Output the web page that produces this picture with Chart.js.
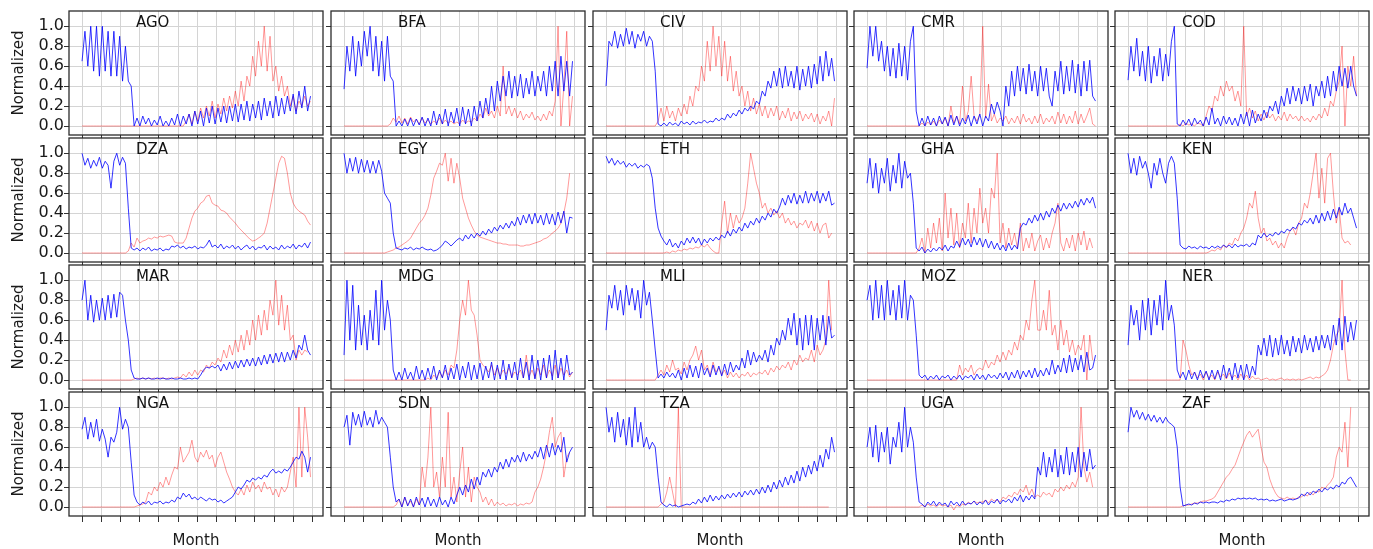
<!DOCTYPE html>
<html>
<head>
<meta charset="utf-8">
<script src="https://cdn.jsdelivr.net/npm/chart.js@4.4.0/dist/chart.umd.min.js"></script>
<style>
  body { margin: 0; background: #fff; }
  #wrap { position: relative; width: 1373px; height: 549px; overflow: hidden; }
  #wrap canvas { position: absolute; }
</style>
</head>
<body>
<div id="wrap"></div>
<script>
// 20 countries, 5 per row; each series is sampled about every 0.15 month (month 0 .. 11.9)
const countries = ['AGO', 'BFA', 'CIV', 'CMR', 'COD',
                   'DZA', 'EGY', 'ETH', 'GHA', 'KEN',
                   'MAR', 'MDG', 'MLI', 'MOZ', 'NER',
                   'NGA', 'SDN', 'TZA', 'UGA', 'ZAF'];
const monthTicks = [0, 1, 2, 3, 4, 5, 6, 7, 8, 9, 10, 11, 12];
const yTicks = [0, 0.2, 0.4, 0.6, 0.8, 1.0];
const STEP = 11.9 / 79;

const agoBlue = [0.65,0.95,0.6,1.0,0.55,1.0,0.5,1.0,0.55,0.95,
  0.5,0.95,0.5,0.9,0.45,0.8,0.45,0.4,0.0,0.08,
  0.0,0.1,0.02,0.08,0.0,0.06,0.01,0.1,0.0,0.05,
  0.0,0.08,0.01,0.12,0.0,0.1,0.02,0.12,0.0,0.15,
  0.02,0.15,0.0,0.18,0.03,0.2,0.02,0.18,0.04,0.2,
  0.03,0.2,0.05,0.22,0.04,0.22,0.06,0.25,0.05,0.22,
  0.08,0.25,0.06,0.28,0.1,0.25,0.08,0.3,0.1,0.28,
  0.12,0.3,0.15,0.32,0.12,0.35,0.18,0.4,0.15,0.3];
const agoRed = [0,0,0,0,0,0,0,0,0,0,
  0,0,0,0,0,0,0,0,0,0,
  0,0,0,0,0,0,0,0,0,0,
  0,0,0,0,0,0,0.05,0.12,0.02,0.15,
  0.05,0.18,0.08,0.2,0.1,0.25,0.08,0.22,0.12,0.28,
  0.15,0.3,0.18,0.35,0.2,0.45,0.25,0.5,0.4,0.7,
  0.5,0.85,0.6,1.0,0.55,0.9,0.45,0.6,0.35,0.5,
  0.3,0.4,0.2,0.3,0.15,0.25,0.2,0.3,0.2,0.25];

const bfaBlue = [0.37,0.8,0.55,0.9,0.5,0.85,0.6,0.95,0.7,1.0,
  0.55,0.9,0.5,0.85,0.45,0.9,0.5,0.45,0.0,0.05,
  0.0,0.07,0.0,0.08,0.0,0.07,0.01,0.09,0.0,0.08,
  0.0,0.15,0.01,0.12,0.02,0.17,0.0,0.14,0.03,0.18,
  0.0,0.19,0.02,0.17,0.0,0.2,0.05,0.25,0.08,0.28,
  0.12,0.4,0.15,0.45,0.25,0.5,0.3,0.55,0.28,0.5,
  0.3,0.52,0.28,0.48,0.32,0.55,0.3,0.5,0.35,0.55,
  0.3,0.6,0.35,0.65,0.3,0.7,0.35,0.65,0.3,0.65];
const bfaRed = [0,0,0,0,0,0,0,0,0,0,
  0,0,0,0,0,0,0.02,0.08,0.04,0.1,
  0.03,0.08,0.02,0.09,0.04,0.07,0.02,0.08,0.03,0.06,
  0.02,0.05,0.03,0.08,0.02,0.06,0.03,0.05,0.02,0.04,
  0.02,0.06,0.03,0.05,0.04,0.08,0.05,0.12,0.08,0.18,
  0.1,0.15,0.08,0.2,0.1,0.6,0.12,0.2,0.1,0.18,
  0.08,0.15,0.06,0.12,0.08,0.14,0.06,0.1,0.05,0.12,
  0.06,0.15,0.1,0.25,1.0,0.0,0.4,0.95,0.0,0.3];

const civBlue = [0.4,0.85,0.8,0.95,0.78,0.92,0.8,0.98,0.82,0.95,
  0.78,0.92,0.85,0.95,0.8,0.9,0.85,0.55,0.02,0.0,
  0.03,0.0,0.04,0.01,0.03,0.0,0.05,0.02,0.04,0.01,
  0.05,0.02,0.04,0.03,0.06,0.03,0.05,0.04,0.08,0.05,
  0.08,0.06,0.12,0.08,0.13,0.1,0.16,0.12,0.18,0.15,
  0.2,0.17,0.25,0.22,0.35,0.3,0.45,0.38,0.55,0.4,
  0.58,0.38,0.6,0.4,0.55,0.38,0.6,0.36,0.57,0.4,
  0.6,0.38,0.62,0.42,0.7,0.45,0.75,0.5,0.68,0.45];
const civRed = [0,0,0,0,0,0,0,0,0,0,
  0,0,0,0,0,0,0,0,0.05,0.18,
  0.05,0.2,0.08,0.15,0.05,0.18,0.1,0.22,0.12,0.3,
  0.2,0.4,0.35,0.6,0.45,0.85,0.55,1.0,0.6,0.9,
  0.5,0.85,0.45,0.7,0.35,0.55,0.3,0.4,0.2,0.35,
  0.15,0.28,0.12,0.22,0.1,0.2,0.08,0.18,0.1,0.2,
  0.06,0.15,0.08,0.18,0.05,0.14,0.07,0.15,0.05,0.12,
  0.07,0.13,0.04,0.12,0.02,0.1,0.05,0.15,0.0,0.28];

const cmrBlue = [0.58,1.0,0.7,1.0,0.65,0.85,0.55,0.8,0.5,0.78,
  0.48,0.83,0.5,0.8,0.46,0.85,1.0,0.15,0.0,0.08,
  0.0,0.1,0.01,0.08,0.0,0.1,0.02,0.09,0.0,0.11,
  0.01,0.1,0.0,0.08,0.02,0.11,0.0,0.1,0.02,0.12,
  0.0,0.1,0.05,0.22,0.12,0.24,0.15,0.0,0.4,0.2,
  0.55,0.3,0.6,0.35,0.58,0.32,0.62,0.35,0.55,0.3,
  0.6,0.35,0.58,0.3,0.2,0.55,0.35,0.65,0.32,0.6,
  0.35,0.66,0.33,0.62,0.3,0.65,0.35,0.66,0.3,0.25];
const cmrRed = [0,0,0,0,0,0,0,0,0,0,
  0,0,0,0,0,0,0,0,0,0.03,
  0.0,0.04,0.01,0.05,0.0,0.06,0.02,0.08,0.0,0.2,
  0.03,0.1,0.02,0.4,0.05,0.15,0.5,0.1,0.05,0.12,
  1.0,0.08,0.42,0.05,0.12,0.03,0.08,0.05,0.1,0.02,
  0.08,0.03,0.1,0.02,0.12,0.04,0.08,0.02,0.1,0.03,
  0.12,0.02,0.08,0.04,0.1,0.02,0.14,0.03,0.12,0.02,
  0.1,0.03,0.15,0.02,0.12,0.03,0.1,0.18,0.02,0.0];

const codBlue = [0.46,0.8,0.55,0.88,0.5,0.75,0.45,0.8,0.43,0.7,
  0.5,0.78,0.45,0.72,0.5,0.85,1.0,0.02,0.0,0.06,
  0.01,0.07,0.0,0.08,0.02,0.06,0.0,0.09,0.01,0.18,
  0.02,0.08,0.0,0.1,0.02,0.09,0.01,0.08,0.0,0.12,
  0.02,0.14,0.0,0.16,0.03,0.12,0.05,0.16,0.08,0.2,
  0.15,0.25,0.12,0.3,0.2,0.38,0.22,0.4,0.25,0.38,
  0.22,0.4,0.25,0.42,0.2,0.4,0.3,0.45,0.28,0.5,
  0.3,0.55,0.35,0.6,0.4,0.58,0.38,0.6,0.4,0.3];
const codRed = [0,0,0,0,0,0,0,0,0,0,
  0,0,0,0,0,0,0,0.0,0.02,0.0,
  0.03,0.01,0.02,0.0,0.03,0.02,0.0,0.1,0.2,0.15,
  0.3,0.25,0.4,0.3,0.45,0.35,0.4,0.25,0.35,0.2,
  1.0,0.1,0.18,0.08,0.15,0.05,0.12,0.06,0.14,0.08,
  0.12,0.05,0.1,0.06,0.14,0.05,0.12,0.07,0.1,0.05,
  0.1,0.05,0.08,0.04,0.1,0.06,0.12,0.08,0.18,0.1,
  0.25,0.2,0.35,0.45,0.8,0.0,0.6,0.4,0.7,0.3];

const dzaBlue = [1.0,0.88,0.95,0.85,0.93,0.87,0.96,0.85,0.92,0.88,
  0.65,0.92,1.0,0.88,0.96,0.9,0.45,0.05,0.03,0.05,
  0.02,0.05,0.03,0.06,0.02,0.04,0.03,0.05,0.02,0.04,
  0.03,0.07,0.06,0.08,0.05,0.07,0.04,0.06,0.05,0.07,
  0.04,0.06,0.05,0.08,0.13,0.06,0.08,0.05,0.09,0.04,
  0.07,0.05,0.08,0.04,0.07,0.03,0.06,0.08,0.04,0.07,
  0.03,0.06,0.05,0.08,0.03,0.07,0.04,0.06,0.03,0.08,
  0.04,0.07,0.05,0.09,0.04,0.08,0.06,0.1,0.05,0.11];
const dzaRed = [0,0,0,0,0,0,0,0,0,0,
  0,0,0,0,0,0,0.02,0.1,0.06,0.15,
  0.1,0.12,0.13,0.15,0.14,0.16,0.15,0.17,0.16,0.17,
  0.18,0.17,0.11,0.1,0.1,0.1,0.15,0.25,0.35,0.42,
  0.45,0.5,0.52,0.57,0.58,0.5,0.48,0.47,0.43,0.42,
  0.4,0.36,0.33,0.3,0.26,0.23,0.2,0.17,0.14,0.12,
  0.13,0.15,0.17,0.2,0.3,0.45,0.6,0.75,0.9,0.97,
  0.95,0.8,0.6,0.5,0.45,0.42,0.4,0.38,0.32,0.28];

const egyBlue = [1.0,0.8,0.95,0.82,0.96,0.8,0.94,0.81,0.93,0.8,
  0.92,0.8,0.93,0.82,0.6,0.55,0.5,0.2,0.05,0.04,
  0.03,0.05,0.04,0.06,0.03,0.05,0.04,0.06,0.04,0.03,
  0.04,0.02,0.03,0.05,0.08,0.12,0.1,0.07,0.1,0.13,
  0.15,0.12,0.18,0.14,0.19,0.15,0.2,0.17,0.22,0.18,
  0.24,0.2,0.26,0.22,0.28,0.24,0.3,0.25,0.32,0.27,
  0.36,0.28,0.38,0.3,0.39,0.29,0.4,0.3,0.38,0.28,
  0.4,0.29,0.39,0.28,0.41,0.3,0.42,0.2,0.36,0.35];
const egyRed = [0,0,0,0,0,0,0,0,0,0,
  0,0,0,0,0,0.01,0.02,0.03,0.05,0.06,
  0.08,0.1,0.12,0.15,0.2,0.25,0.3,0.33,0.38,0.45,
  0.58,0.75,0.82,0.9,0.88,1.0,0.72,0.95,0.7,0.9,
  0.75,0.55,0.45,0.35,0.28,0.22,0.18,0.16,0.15,0.14,
  0.13,0.12,0.11,0.1,0.1,0.09,0.09,0.08,0.08,0.08,
  0.08,0.07,0.07,0.08,0.08,0.09,0.1,0.11,0.12,0.14,
  0.15,0.17,0.2,0.22,0.25,0.3,0.4,0.55,0.8];

const ethBlue = [0.97,0.9,0.95,0.88,0.93,0.89,0.92,0.86,0.9,0.87,
  0.9,0.85,0.88,0.86,0.89,0.87,0.75,0.45,0.25,0.17,
  0.12,0.08,0.14,0.06,0.1,0.05,0.12,0.08,0.15,0.1,
  0.16,0.1,0.15,0.08,0.14,0.1,0.15,0.12,0.16,0.13,
  0.18,0.15,0.22,0.17,0.24,0.2,0.26,0.22,0.3,0.25,
  0.32,0.28,0.35,0.3,0.37,0.33,0.4,0.36,0.44,0.4,
  0.46,0.55,0.48,0.58,0.5,0.6,0.49,0.58,0.5,0.62,
  0.5,0.6,0.52,0.62,0.5,0.6,0.52,0.62,0.48,0.5];
const ethRed = [0,0,0,0,0,0,0,0,0,0,
  0,0,0,0,0,0,0,0,0,0,
  0,0.01,0.0,0.02,0.01,0.03,0.02,0.04,0.03,0.05,
  0.04,0.06,0.05,0.08,0.06,0.09,0.05,0.02,0.0,0.0,
  0.3,0.52,0.2,0.4,0.25,0.38,0.3,0.35,0.45,0.7,
  1.0,0.85,0.7,0.6,0.45,0.5,0.4,0.45,0.38,0.42,
  0.35,0.4,0.3,0.35,0.28,0.32,0.25,0.3,0.28,0.33,
  0.25,0.32,0.22,0.3,0.2,0.28,0.3,0.15,0.2];

const ghaBlue = [0.7,0.95,0.65,0.9,0.6,0.85,0.7,0.95,0.62,0.88,
  0.7,1.0,0.65,0.92,0.75,0.8,0.5,0.05,0.02,0.06,
  0.0,0.04,0.01,0.05,0.02,0.06,0.03,0.08,0.02,0.07,
  0.05,0.12,0.06,0.15,0.08,0.14,0.06,0.16,0.08,0.15,
  0.06,0.14,0.05,0.12,0.04,0.1,0.03,0.08,0.02,0.1,
  0.03,0.08,0.04,0.25,0.3,0.28,0.35,0.3,0.38,0.32,
  0.4,0.33,0.42,0.36,0.45,0.4,0.48,0.42,0.5,0.44,
  0.5,0.45,0.52,0.46,0.54,0.48,0.55,0.5,0.56,0.45];
const ghaRed = [0,0,0,0,0,0,0,0,0,0,
  0,0,0,0,0,0,0,0,0.05,0.15,
  0.0,0.25,0.05,0.3,0.1,0.35,0.02,0.6,0.15,0.45,
  0.08,0.4,0.05,0.3,0.15,0.5,0.1,0.45,0.2,0.65,
  0.3,0.45,0.2,0.65,0.55,1.0,0.1,0.3,0.05,0.25,
  0.08,0.2,0.05,0.3,0.02,0.15,0.05,0.2,0.02,0.12,
  0.18,0.03,0.15,0.05,0.2,0.3,0.5,0.1,0.02,0.15,
  0.05,0.18,0.02,0.2,0.08,0.22,0.03,0.15,0.05];

const kenBlue = [1.0,0.8,0.95,0.78,0.97,0.85,0.92,0.8,0.65,0.9,
  0.78,0.95,0.8,0.7,0.9,0.97,0.9,0.55,0.08,0.05,
  0.04,0.07,0.05,0.06,0.04,0.07,0.05,0.06,0.04,0.07,
  0.05,0.07,0.05,0.08,0.06,0.08,0.05,0.09,0.06,0.08,
  0.07,0.09,0.06,0.1,0.08,0.18,0.15,0.2,0.16,0.19,
  0.17,0.21,0.18,0.22,0.2,0.24,0.22,0.26,0.24,0.3,
  0.28,0.33,0.3,0.35,0.29,0.38,0.3,0.4,0.32,0.42,
  0.33,0.44,0.35,0.46,0.38,0.5,0.4,0.45,0.35,0.25];
const kenRed = [0,0,0,0,0,0,0,0,0,0,
  0,0,0,0,0,0,0,0,0,0,
  0,0,0,0,0,0,0,0,0.01,0.03,
  0.02,0.05,0.03,0.08,0.05,0.1,0.08,0.15,0.12,0.2,
  0.25,0.35,0.5,0.45,0.62,0.35,0.2,0.25,0.12,0.15,
  0.08,0.12,0.05,0.1,0.05,0.15,0.22,0.25,0.18,0.3,
  0.35,0.5,0.45,0.6,0.8,1.0,0.55,0.85,0.5,0.95,
  1.0,0.6,0.3,0.45,0.15,0.1,0.12,0.08];

const marBlue = [0.8,1.0,0.6,0.85,0.58,0.8,0.6,0.82,0.6,0.85,
  0.62,0.86,0.63,0.88,0.85,0.6,0.4,0.1,0.02,0.01,
  0.01,0.02,0.01,0.02,0.01,0.01,0.02,0.01,0.02,0.01,
  0.01,0.02,0.01,0.01,0.02,0.01,0.01,0.02,0.01,0.02,
  0.01,0.05,0.1,0.13,0.12,0.14,0.12,0.15,0.09,0.16,
  0.1,0.18,0.11,0.19,0.12,0.2,0.13,0.21,0.14,0.22,
  0.14,0.23,0.15,0.25,0.16,0.26,0.17,0.27,0.18,0.28,
  0.18,0.28,0.2,0.3,0.22,0.35,0.3,0.45,0.3,0.25];
const marRed = [0,0,0,0,0,0,0,0,0,0,
  0,0,0,0,0,0,0,0,0.01,0.02,
  0.01,0.02,0.01,0.02,0.01,0.02,0.01,0.02,0.02,0.01,
  0.02,0.01,0.02,0.03,0.02,0.06,0.03,0.08,0.04,0.1,
  0.05,0.1,0.08,0.15,0.12,0.18,0.15,0.22,0.18,0.3,
  0.22,0.35,0.25,0.4,0.28,0.45,0.3,0.5,0.35,0.6,
  0.4,0.65,0.45,0.7,0.5,0.8,0.65,1.0,0.55,0.85,
  0.5,0.75,0.4,0.45,0.2,0.3,0.25,0.3,0.28];

const mdgBlue = [0.25,1.0,0.4,0.95,0.3,0.75,0.35,0.65,0.3,0.7,
  0.4,0.9,0.35,1.0,0.5,0.8,0.6,0.1,0.0,0.08,
  0.0,0.12,0.01,0.08,0.0,0.14,0.01,0.1,0.0,0.12,
  0.01,0.14,0.0,0.1,0.02,0.15,0.0,0.12,0.01,0.16,
  0.0,0.14,0.02,0.18,0.0,0.15,0.01,0.17,0.0,0.14,
  0.02,0.18,0.0,0.15,0.01,0.2,0.0,0.16,0.02,0.18,
  0.0,0.22,0.02,0.18,0.0,0.25,0.01,0.2,0.0,0.22,
  0.02,0.25,0.0,0.3,0.02,0.22,0.0,0.25,0.05,0.08];
const mdgRed = [0,0,0,0,0,0,0,0,0,0,
  0,0,0,0,0,0,0,0,0,0,
  0,0,0,0,0,0,0,0,0,0.02,
  0.0,0.05,0.02,0.08,0.03,0.1,0.05,0.15,0.12,0.3,
  0.6,0.8,0.65,1.0,0.7,0.65,0.45,0.2,0.15,0.12,
  0.08,0.15,0.05,0.12,0.04,0.1,0.06,0.12,0.03,0.08,
  0.05,0.1,0.02,0.25,0.04,0.1,0.02,0.12,0.05,0.15,
  0.02,0.1,0.04,0.15,0.02,0.12,0.05,0.1,0.03,0.08];

const mliBlue = [0.5,0.85,0.72,0.95,0.7,0.9,0.65,0.95,0.75,0.92,
  0.7,0.9,0.62,1.0,0.75,0.88,0.6,0.3,0.02,0.06,
  0.02,0.08,0.03,0.07,0.02,0.1,0.0,0.12,0.02,0.15,
  0.03,0.14,0.02,0.17,0.05,0.12,0.03,0.15,0.05,0.14,
  0.04,0.16,0.05,0.18,0.08,0.15,0.1,0.22,0.12,0.3,
  0.15,0.28,0.18,0.25,0.2,0.3,0.18,0.35,0.25,0.42,
  0.35,0.5,0.4,0.62,0.45,0.67,0.35,0.62,0.3,0.65,
  0.35,0.65,0.3,0.62,0.4,0.65,0.35,0.64,0.42,0.45];
const mliRed = [0,0,0,0,0,0,0,0,0,0,
  0,0,0,0,0,0,0,0,0.05,0.1,
  0.05,0.15,0.08,0.2,0.1,0.12,0.06,0.18,0.1,0.2,
  0.25,0.34,0.2,0.3,0.1,0.15,0.05,0.18,0.08,0.12,
  0.05,0.1,0.02,0.08,0.03,0.07,0.02,0.06,0.04,0.08,
  0.03,0.07,0.05,0.08,0.06,0.1,0.05,0.12,0.08,0.14,
  0.1,0.15,0.12,0.18,0.1,0.2,0.15,0.25,0.18,0.22,
  0.2,0.3,0.18,0.35,0.25,0.3,0.4,1.0,0.5];

const mozBlue = [0.8,0.95,0.6,1.0,0.62,0.95,0.6,1.0,0.65,0.9,
  0.6,0.95,0.62,1.0,0.6,0.85,0.8,0.45,0.05,0.02,
  0.05,0.0,0.04,0.01,0.05,0.0,0.04,0.02,0.05,0.0,
  0.04,0.01,0.05,0.0,0.04,0.02,0.05,0.0,0.06,0.01,
  0.05,0.0,0.06,0.02,0.05,0.01,0.07,0.02,0.08,0.0,
  0.08,0.02,0.1,0.01,0.09,0.03,0.1,0.02,0.12,0.03,
  0.1,0.04,0.12,0.05,0.2,0.06,0.15,0.08,0.22,0.07,
  0.25,0.08,0.22,0.1,0.25,0.08,0.28,0.1,0.12,0.25];
const mozRed = [0,0,0,0,0,0,0,0,0,0,
  0,0,0,0,0,0,0,0,0,0,
  0,0,0,0,0,0,0,0,0,0,
  0,0,0.15,0.05,0.12,0.08,0.15,0.05,0.1,0.12,
  0.1,0.2,0.12,0.18,0.15,0.25,0.18,0.28,0.2,0.3,
  0.25,0.38,0.3,0.45,0.4,0.6,0.5,0.8,1.0,0.5,
  0.5,0.7,0.5,0.9,0.45,0.55,0.3,0.6,0.35,0.5,
  0.28,0.4,0.25,0.35,0.3,0.45,0.0,0.45,0.2];

const nerBlue = [0.35,0.75,0.55,0.7,0.4,0.8,0.5,0.82,0.45,0.8,
  0.55,0.85,0.5,1.0,0.6,0.75,0.55,0.1,0.02,0.08,
  0.0,0.1,0.01,0.08,0.0,0.1,0.02,0.09,0.0,0.1,
  0.01,0.1,0.0,0.15,0.02,0.12,0.0,0.17,0.02,0.15,
  0.0,0.16,0.02,0.14,0.05,0.35,0.25,0.42,0.24,0.45,
  0.23,0.42,0.25,0.45,0.26,0.4,0.24,0.44,0.28,0.42,
  0.27,0.45,0.3,0.42,0.28,0.44,0.3,0.45,0.32,0.45,
  0.3,0.55,0.35,0.62,0.3,0.64,0.38,0.58,0.4,0.6];
const nerRed = [0,0,0,0,0,0,0,0,0,0,
  0,0,0,0,0,0,0,0,0.0,0.4,
  0.3,0.15,0.05,0.08,0.02,0.06,0.0,0.08,0.02,0.05,
  0.0,0.08,0.03,0.06,0.01,0.07,0.02,0.05,0.0,0.06,
  0.01,0.05,0.0,0.04,0.01,0.02,0.0,0.01,0.02,0.0,
  0.01,0.0,0.01,0.02,0.0,0.01,0.0,0.01,0.0,0.01,
  0.0,0.01,0.02,0.03,0.01,0.03,0.02,0.04,0.06,0.1,
  0.2,0.35,0.45,0.5,1.0,0.3,0.0,0.0];

const ngaBlue = [0.78,0.9,0.68,0.85,0.7,0.88,0.66,0.78,0.68,0.5,
  0.7,0.65,0.75,1.0,0.78,0.88,0.8,0.45,0.12,0.05,
  0.02,0.05,0.03,0.06,0.02,0.05,0.04,0.06,0.03,0.05,
  0.04,0.07,0.05,0.1,0.08,0.14,0.1,0.13,0.08,0.1,
  0.07,0.1,0.08,0.06,0.09,0.07,0.08,0.05,0.07,0.04,
  0.06,0.08,0.1,0.15,0.2,0.18,0.22,0.27,0.25,0.29,
  0.27,0.3,0.28,0.32,0.3,0.35,0.38,0.34,0.36,0.34,
  0.38,0.36,0.4,0.45,0.5,0.48,0.56,0.5,0.35,0.5];
const ngaRed = [0,0,0,0,0,0,0,0,0,0,
  0,0,0,0,0,0,0,0,0,0.01,
  0.02,0.03,0.05,0.15,0.12,0.2,0.16,0.25,0.2,0.3,
  0.22,0.32,0.4,0.38,0.6,0.45,0.5,0.55,0.67,0.5,
  0.45,0.55,0.5,0.57,0.48,0.52,0.4,0.5,0.55,0.45,
  0.35,0.28,0.2,0.15,0.12,0.18,0.12,0.22,0.15,0.25,
  0.18,0.22,0.15,0.25,0.18,0.2,0.12,0.18,0.1,0.2,
  0.15,0.2,0.35,0.5,0.2,1.0,0.3,1.0,0.7,0.3];

const sdnBlue = [0.8,0.92,0.62,0.95,0.82,0.93,0.8,0.96,0.82,0.9,
  0.8,0.97,0.83,0.9,0.85,0.8,0.5,0.2,0.05,0.08,
  0.0,0.1,0.01,0.08,0.0,0.1,0.02,0.09,0.0,0.1,
  0.01,0.08,0.0,0.1,0.02,0.07,0.0,0.1,0.03,0.12,
  0.2,0.12,0.22,0.15,0.28,0.18,0.3,0.22,0.35,0.3,
  0.38,0.3,0.4,0.35,0.45,0.38,0.48,0.4,0.5,0.45,
  0.52,0.45,0.55,0.46,0.53,0.48,0.56,0.5,0.6,0.48,
  0.62,0.5,0.64,0.52,0.62,0.55,0.7,0.45,0.55,0.6];
const sdnRed = [0,0,0,0,0,0,0,0,0,0,
  0,0,0,0,0,0,0,0,0.02,0.08,
  0.0,0.1,0.02,0.06,0.0,0.08,0.02,0.4,0.2,0.5,
  1.0,0.2,0.35,0.1,0.5,0.2,0.95,0.1,0.3,0.05,
  0.35,0.6,0.1,0.4,0.05,0.3,0.2,0.15,0.05,0.1,
  0.02,0.08,0.01,0.05,0.02,0.04,0.01,0.03,0.02,0.04,
  0.01,0.03,0.02,0.04,0.03,0.05,0.15,0.2,0.28,0.4,
  0.55,0.75,0.9,0.6,0.7,0.75,0.3,0.5,0.55];

const tzaBlue = [1.0,0.75,0.9,0.65,0.95,0.7,0.88,0.62,0.9,0.6,
  1.0,0.65,0.85,0.6,0.7,0.58,0.65,0.6,0.3,0.05,
  0.02,0.0,0.03,0.01,0.02,0.0,0.01,0.02,0.03,0.02,
  0.05,0.03,0.08,0.04,0.1,0.05,0.12,0.06,0.11,0.07,
  0.12,0.08,0.13,0.09,0.14,0.1,0.15,0.1,0.16,0.12,
  0.17,0.12,0.18,0.13,0.2,0.14,0.22,0.15,0.25,0.18,
  0.27,0.2,0.3,0.22,0.32,0.24,0.36,0.26,0.4,0.3,
  0.42,0.33,0.46,0.36,0.52,0.4,0.58,0.48,0.7,0.55];
const tzaRed = [0,0,0,0,0,0,0,0,0,0,
  0,0,0,0,0,0,0,0,0,0.03,
  0.05,0.15,0.3,0.15,0.0,1.0,0.0,0.0,0.0,0.0,
  0,0,0,0,0,0,0,0,0,0,
  0,0,0,0,0,0,0,0,0,0,
  0,0,0,0,0,0,0,0,0,0,
  0,0,0,0,0,0,0,0,0,0,
  0,0,0,0,0,0,0,0];

const ugaBlue = [0.6,0.8,0.5,0.82,0.45,0.75,0.55,0.8,0.43,0.7,
  0.6,0.85,0.55,1.0,0.6,0.8,0.65,0.3,0.05,0.03,
  0.0,0.05,0.02,0.06,0.01,0.05,0.02,0.04,0.0,0.06,
  0.02,0.05,0.01,0.06,0.02,0.04,0.03,0.06,0.02,0.05,
  0.03,0.07,0.02,0.06,0.04,0.08,0.03,0.07,0.05,0.08,
  0.04,0.1,0.06,0.12,0.05,0.11,0.07,0.12,0.08,0.4,
  0.32,0.55,0.3,0.5,0.35,0.58,0.3,0.52,0.33,0.6,
  0.32,0.55,0.35,0.6,0.3,0.55,0.36,0.58,0.38,0.42];
const ugaRed = [0,0,0,0,0,0,0,0,0,0,
  0,0,0,0,0,0,0,0,0.0,0.02,
  0.0,0.03,0.01,0.02,0.0,0.03,0.01,0.02,0.0,0.02,
  -0.03,0.02,0.0,0.03,0.02,0.05,0.03,0.06,0.04,0.05,
  0.05,0.07,0.04,0.08,0.06,0.07,0.05,0.1,0.08,0.12,
  0.1,0.15,0.12,0.18,0.15,0.22,0.12,0.18,0.1,0.12,
  0.1,0.15,0.12,0.14,0.1,0.18,0.15,0.2,0.16,0.22,
  0.18,0.25,0.2,0.3,1.0,0.4,0.25,0.35,0.2];

const zafBlue = [0.75,1.0,0.9,0.97,0.88,0.95,0.87,0.93,0.86,0.92,
  0.85,0.9,0.84,0.9,0.85,0.83,0.8,0.6,0.2,0.01,
  0.02,0.03,0.02,0.04,0.03,0.05,0.04,0.05,0.04,0.05,
  0.05,0.04,0.06,0.05,0.07,0.06,0.08,0.07,0.09,0.08,
  0.09,0.08,0.09,0.08,0.09,0.07,0.08,0.07,0.08,0.06,
  0.07,0.06,0.07,0.08,0.06,0.07,0.08,0.07,0.08,0.09,
  0.13,0.11,0.15,0.12,0.16,0.14,0.18,0.15,0.19,0.17,
  0.2,0.18,0.22,0.2,0.25,0.23,0.28,0.3,0.25,0.2];
const zafRed = [0,0,0,0,0,0,0,0,0,0,
  0,0,0,0,0,0,0,0,0.0,0.01,
  0.02,0.02,0.03,0.04,0.04,0.05,0.06,0.06,0.07,0.08,
  0.1,0.15,0.2,0.25,0.3,0.33,0.38,0.42,0.5,0.58,
  0.65,0.72,0.76,0.7,0.74,0.78,0.6,0.45,0.4,0.28,
  0.2,0.14,0.1,0.09,0.08,0.1,0.08,0.09,0.08,0.1,
  0.1,0.13,0.11,0.15,0.12,0.16,0.15,0.2,0.18,0.22,
  0.25,0.3,0.5,0.6,0.55,0.85,0.4,1.0];

const seriesByCountry = {
  AGO: [agoBlue, agoRed], BFA: [bfaBlue, bfaRed], CIV: [civBlue, civRed],
  CMR: [cmrBlue, cmrRed], COD: [codBlue, codRed], DZA: [dzaBlue, dzaRed],
  EGY: [egyBlue, egyRed], ETH: [ethBlue, ethRed], GHA: [ghaBlue, ghaRed],
  KEN: [kenBlue, kenRed], MAR: [marBlue, marRed], MDG: [mdgBlue, mdgRed],
  MLI: [mliBlue, mliRed], MOZ: [mozBlue, mozRed], NER: [nerBlue, nerRed],
  NGA: [ngaBlue, ngaRed], SDN: [sdnBlue, sdnRed], TZA: [tzaBlue, tzaRed],
  UGA: [ugaBlue, ugaRed], ZAF: [zafBlue, zafRed]
};

// panel grid (plot area boxes)
const colLeft = [69, 331, 593, 854, 1115];
const rowTop = [11, 138, 265, 392];
const PW = 254, PH = 124;
const gridColor = '#d4d4d4';

Chart.defaults.font.family = "'DejaVu Sans', sans-serif";
Chart.defaults.font.size = 15;
Chart.defaults.color = '#1a1a1a';

// frame + country code inside the plot area
const framePlugin = {
  id: 'frame',
  afterDraw(chart, args, opts) {
    const { ctx, chartArea: a } = chart;
    ctx.save();
    ctx.fillStyle = '#111';
    ctx.font = "15px 'DejaVu Sans'";
    ctx.textBaseline = 'alphabetic';
    ctx.fillText(opts.name, a.left + 67, a.top + 15.5);
    ctx.strokeStyle = '#2b2b2b';
    ctx.lineWidth = 1.3;
    ctx.strokeRect(a.left, a.top, a.right - a.left, a.bottom - a.top);
    ctx.restore();
  }
};

const wrap = document.getElementById('wrap');
const toPoints = vals => vals.map((v, i) => ({ x: i * STEP, y: v }));

countries.forEach((name, k) => {
  const r = Math.floor(k / 5), c = k % 5;
  const yw = c === 0 ? colLeft[0] : 10;
  const xh = r === 3 ? 549 - (rowTop[r] + PH) : 10;
  const cv = document.createElement('canvas');
  cv.width = yw + PW + 3;
  cv.height = 11 + PH + xh;
  cv.style.left = (colLeft[c] - yw) + 'px';
  cv.style.top = (rowTop[r] - 11) + 'px';
  wrap.appendChild(cv);

  const [blue, red] = seriesByCountry[name];
  new Chart(cv, {
    type: 'line',
    data: {
      datasets: [
        { data: toPoints(blue), borderColor: 'rgba(0,0,255,0.8)', borderWidth: 1 },
        { data: toPoints(red), borderColor: 'rgba(255,0,0,0.4)', borderWidth: 1 }
      ]
    },
    options: {
      responsive: false,
      animation: false,
      events: [],
      layout: { autoPadding: false, padding: { top: 11, right: 3, left: 0, bottom: 0 } },
      elements: { point: { radius: 0 }, line: { tension: 0 } },
      plugins: { legend: { display: false }, tooltip: { enabled: false }, frame: { name } },
      scales: {
        x: {
          type: 'linear', min: -0.68, max: 12.55,
          afterBuildTicks: ax => { ax.ticks = monthTicks.map(v => ({ value: v })); },
          afterFit: ax => { ax.height = xh; },
          ticks: { display: false },
          grid: { color: gridColor, tickColor: '#333', tickLength: 6 },
          border: { display: false },
          title: { display: r === 3, text: 'Month', padding: 0, font: { size: 15, lineHeight: 1 } }
        },
        y: {
          min: -0.09, max: 1.153,
          afterBuildTicks: ax => { ax.ticks = yTicks.map(v => ({ value: v })); },
          afterFit: ax => { ax.width = yw; },
          ticks: { display: c === 0, padding: 0, font: { size: 16 }, callback: v => v.toFixed(1) },
          grid: { color: gridColor, tickColor: '#333', tickLength: 5 },
          border: { display: false },
          title: { display: c === 0, text: 'Normalized', padding: { top: 12, bottom: 0 }, font: { size: 15, lineHeight: 1 } }
        }
      }
    },
    plugins: [framePlugin]
  });
});
</script>
</body>
</html>
